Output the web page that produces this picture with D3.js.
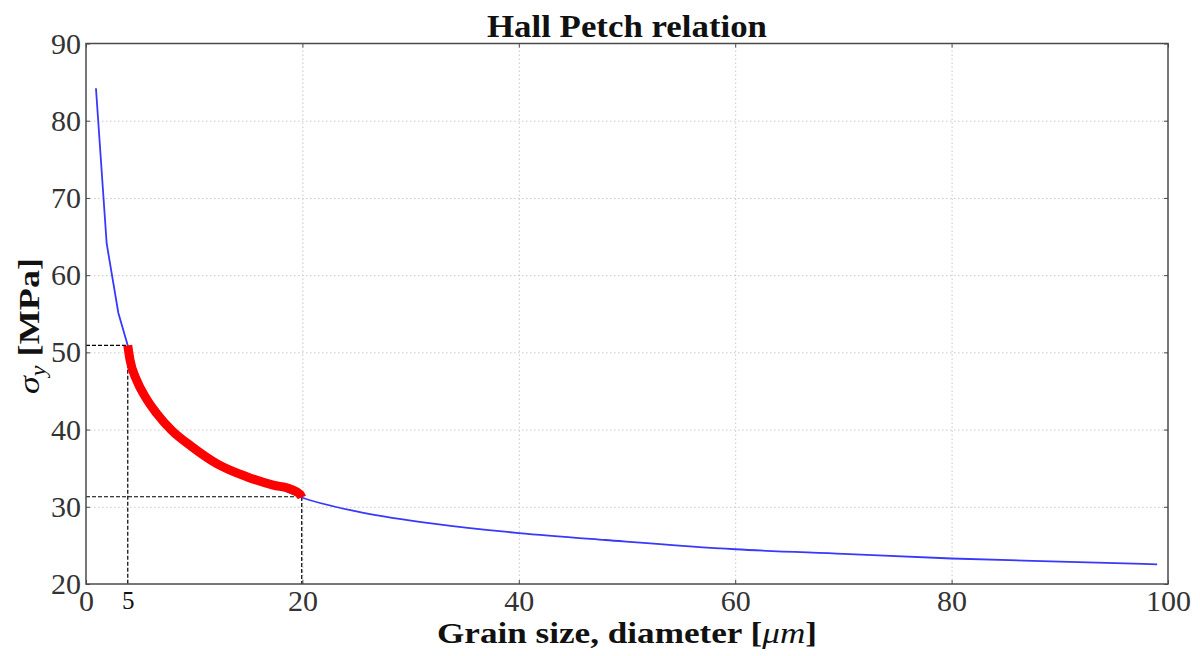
<!DOCTYPE html>
<html>
<head>
<meta charset="utf-8">
<script src="https://cdn.jsdelivr.net/npm/d3@7"></script>
<style>
  body { margin: 0; background: #fff; }
  svg { display: block; }
</style>
</head>
<body>
<div id="chart-area"></div>
<script>
// data
// blue curve: grain size d [um] vs yield stress [MPa]
let grainSize = [0.92, 1.91, 2.99, 3.86, 4.07, 4.68, 5.45, 6.53, 7.92, 9.77, 12.08, 14.85, 17.3, 19.94,
                 25, 31, 37, 40, 48, 60, 70, 80, 90, 99];
let yieldStress = [84.2, 64.1, 55.1, 50.9, 49.0, 46.4, 44.3, 42.1, 39.9, 37.8, 35.6, 33.9, 32.7, 31.2,
                   29.4, 28.0, 27.0, 26.6, 25.7, 24.5, 23.9, 23.3, 22.9, 22.55];

// red highlighted range
let rangeSize = [3.86, 4.07, 4.68, 5.45, 6.53, 7.92, 9.77, 12.08, 14.85, 17.3, 18.9, 19.8, 19.94];
let rangeStress = [50.9, 49.0, 46.4, 44.3, 42.1, 39.9, 37.8, 35.6, 33.9, 32.8, 32.3, 31.6, 31.2];

// dashed guide corners
let guideSize = [3.86, 19.94];
let guideStress = [50.9, 31.3];

// ticks
let xTicks = [0, 20, 40, 60, 80, 100];
let yTicks = [20, 30, 40, 50, 60, 70, 80, 90];
let markTicks = [3.86];
let markLabels = ["5"];

let W = 1200, H = 656;
let m = {top: 43.5, right: 32, bottom: 72, left: 86};
let w = W - m.left - m.right;
let h = H - m.top - m.bottom;

let svg = d3.select("#chart-area")
    .append("svg")
    .attr("width", W)
    .attr("height", H);

let g = svg.append("g")
    .attr("transform", "translate(" + m.left + "," + m.top + ")");

let x = d3.scaleLinear().domain([0, 100]).range([0, w]);
let y = d3.scaleLinear().domain([20, 90]).range([h, 0]);

let font = "'Liberation Serif', 'DejaVu Serif', serif";

// grid
g.append("g")
    .attr("class", "grid x")
    .attr("transform", "translate(0," + h + ")")
    .call(d3.axisBottom(x).tickValues(xTicks.slice(1, -1)).tickSize(-h).tickFormat(""))
    .call(function(s){ s.select(".domain").remove(); })
    .selectAll("line")
      .attr("stroke", "#c8c8c8")
      .attr("stroke-dasharray", "1.5,2.5");

g.append("g")
    .attr("class", "grid y")
    .call(d3.axisLeft(y).tickValues(yTicks.slice(1, -1)).tickSize(-w).tickFormat(""))
    .call(function(s){ s.select(".domain").remove(); })
    .selectAll("line")
      .attr("stroke", "#c8c8c8")
      .attr("stroke-dasharray", "1.5,2.5");

// dashed guides
guideSize.forEach(function(d, i){
  g.append("path")
    .attr("d", d3.line()([[x(0), y(guideStress[i])], [x(d), y(guideStress[i])], [x(d), y(20)]]))
    .attr("fill", "none")
    .attr("stroke", "#000")
    .attr("stroke-width", 1.2)
    .attr("stroke-dasharray", "4,2");
});

// blue curve: first few samples straight, rest smooth
let pts = d3.zip(grainSize, yieldStress);

let line = d3.line()
    .x(function(d){ return x(d[0]); })
    .y(function(d){ return y(d[1]); });

g.append("path")
    .datum(pts.slice(0, 4))
    .attr("d", line)
    .attr("fill", "none")
    .attr("stroke", "#3838ff")
    .attr("stroke-width", 1.8);

let smooth = d3.line()
    .x(function(d){ return x(d[0]); })
    .y(function(d){ return y(d[1]); })
    .curve(d3.curveMonotoneX);

g.append("path")
    .datum(pts.slice(3))
    .attr("d", smooth)
    .attr("fill", "none")
    .attr("stroke", "#3838ff")
    .attr("stroke-width", 1.8);

// red range
g.append("path")
    .datum(d3.zip(rangeSize, rangeStress))
    .attr("d", smooth)
    .attr("fill", "none")
    .attr("stroke", "#ff0000")
    .attr("stroke-width", 9)
    .attr("stroke-linejoin", "round");

// frame
g.append("rect")
    .attr("width", w)
    .attr("height", h)
    .attr("fill", "none")
    .attr("stroke", "#4a4a4a")
    .attr("stroke-width", 1.5);

// axes with inward ticks
g.append("g")
    .attr("class", "x axis")
    .attr("transform", "translate(0," + h + ")")
    .call(d3.axisBottom(x).tickValues(xTicks).tickSize(-4).tickPadding(6));

g.append("g")
    .attr("class", "y axis")
    .call(d3.axisLeft(y).tickValues(yTicks).tickSize(-4).tickPadding(5));

// top / right ticks
g.append("g")
    .call(d3.axisTop(x).tickValues(xTicks).tickSize(-4).tickFormat(""));
g.append("g")
    .attr("transform", "translate(" + w + ",0)")
    .call(d3.axisRight(y).tickValues(yTicks).tickSize(-4).tickFormat(""));

g.selectAll(".domain").remove();
g.selectAll(".tick line").filter(function(){ return !this.parentNode.parentNode.classList.contains("grid"); })
    .attr("stroke", "#4a4a4a");

g.selectAll(".axis text")
    .attr("font-family", font)
    .attr("font-size", "30px")
    .attr("fill", "#333");

// special "5" label
let mark = g.append("g")
    .attr("transform", "translate(0," + h + ")")
    .call(d3.axisBottom(x).tickValues(markTicks).tickSize(0).tickPadding(7)
      .tickFormat(function(d, i){ return markLabels[i]; }));
mark.select(".domain").remove();
mark.selectAll("text")
    .attr("font-family", font)
    .attr("font-size", "25px")
    .attr("fill", "#111");

// title
svg.append("text")
    .attr("x", m.left + w / 2)
    .attr("y", 37)
    .attr("text-anchor", "middle")
    .attr("font-family", font)
    .attr("font-weight", "bold")
    .attr("font-size", "31px")
    .attr("textLength", 280)
    .attr("lengthAdjust", "spacingAndGlyphs")
    .attr("fill", "#111")
    .text("Hall Petch relation");

// x label
let xl = svg.append("text")
    .attr("x", m.left + w / 2)
    .attr("y", 643)
    .attr("text-anchor", "middle")
    .attr("font-family", font)
    .attr("font-weight", "bold")
    .attr("font-size", "30px")
    .attr("textLength", 380)
    .attr("lengthAdjust", "spacingAndGlyphs")
    .attr("fill", "#111");
xl.append("tspan").text("Grain size, diameter [");
xl.append("tspan").attr("font-style", "italic").attr("font-weight", "normal").text("μm");
xl.append("tspan").text("]");

// y label
let yl = svg.append("text")
    .attr("transform", "translate(39,326) rotate(-90)")
    .attr("text-anchor", "middle")
    .attr("font-family", font)
    .attr("font-weight", "bold")
    .attr("font-size", "30px")
    .attr("textLength", 136)
    .attr("lengthAdjust", "spacingAndGlyphs")
    .attr("fill", "#111");
yl.append("tspan").attr("font-style", "italic").attr("font-weight", "normal").text("σ");
yl.append("tspan").attr("font-style", "italic").attr("font-weight", "normal")
    .attr("font-size", "20px").attr("dy", 6).text("y");
yl.append("tspan").attr("dy", -6).text(" [MPa]");
</script>
</body>
</html>
